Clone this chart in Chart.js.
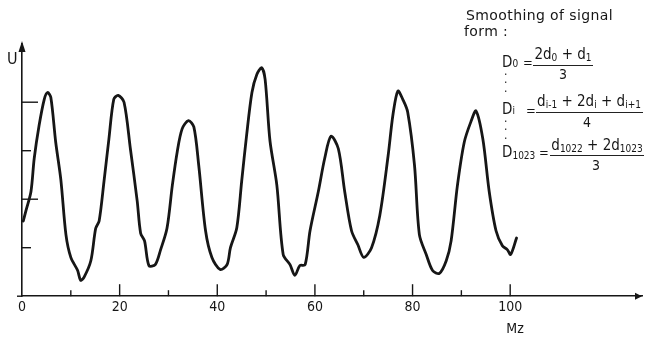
<!DOCTYPE html>
<html><head><meta charset="utf-8">
<script src="https://cdn.jsdelivr.net/npm/chart.js@4.4.1/dist/chart.umd.min.js"></script>
<style>
html,body{margin:0;padding:0;background:#fff;}
#wrap{position:relative;width:645px;height:337px;overflow:hidden;background:#fff;}
canvas{position:absolute;left:0;top:0;}
.t{position:absolute;font-family:"DejaVu Sans Condensed","DejaVu Sans",sans-serif;color:#161616;white-space:nowrap;line-height:1;}
.s{font-size:10px;vertical-align:-2px;line-height:1;}
.bar{position:absolute;height:0;border-top:1.3px solid #222;}
</style></head><body>
<div id="wrap"><canvas id="c" width="645" height="337"></canvas></div>
<script>
// ---- data ----
const freq = [0.27,0.8,1.84,2.5,3.5,4.56,5.24,5.9,6.9,7.96,9.0,10.0,11.4,12.0,12.7,14.1,15.1,15.8,16.8,17.8,18.8,19.7,20.9,22.2,23.6,24.3,25.1,26.0,27.3,28.4,29.7,30.8,31.8,32.8,34.1,35.2,36.2,37.6,38.9,40.6,42.0,42.7,44.0,45.0,46.0,47.1,48.1,49.1,49.8,50.8,52.2,53.5,54.9,55.9,56.9,58.0,59.0,60.7,62.0,63.3,64.8,66.1,67.5,68.8,70.0,71.6,73.3,75.0,76.0,77.0,78.0,79.0,80.4,81.4,82.8,84.1,85.5,86.9,87.9,89.2,90.6,92.0,93.0,94.4,95.7,97.1,98.4,99.4,100.1,101.3];
const signal = [1.55,1.76,2.16,2.84,3.52,4.06,4.2,4.1,3.18,2.4,1.27,0.8,0.53,0.33,0.39,0.73,1.4,1.55,2.37,3.24,4.06,4.14,4.0,3.04,1.96,1.3,1.14,0.63,0.65,0.96,1.4,2.29,2.98,3.45,3.62,3.49,2.7,1.35,0.8,0.55,0.65,1.0,1.41,2.37,3.31,4.2,4.57,4.71,4.47,3.2,2.29,0.86,0.65,0.43,0.63,0.65,1.35,2.16,2.84,3.3,3.04,2.16,1.35,1.06,0.8,1.0,1.67,2.9,3.75,4.23,4.06,3.8,2.7,1.27,0.86,0.53,0.47,0.73,1.14,2.29,3.18,3.61,3.82,3.24,2.16,1.35,1.04,0.96,0.86,1.2];
const xTickMarks = [10,20,30,40,50,60,70,80,90,100];
const xTickLabels = [0,20,40,60,80,100];
const yTickMarks = [1,2,3,4];

const ink = '#161616';
const fontFam = '"DejaVu Sans Condensed","DejaVu Sans",sans-serif';

const decor = {
  id:'decor',
  afterDraw(chart){
    const {ctx, chartArea:a, scales:{x,y}} = chart;
    ctx.save();
    ctx.strokeStyle = ink; ctx.fillStyle = ink; ctx.lineWidth = 1.4;
    xTickMarks.forEach(v=>{
      const px = x.getPixelForValue(v);
      const len = v % 20 === 0 ? 12 : 6;
      ctx.beginPath(); ctx.moveTo(px, a.bottom); ctx.lineTo(px, a.bottom - len); ctx.stroke();
    });
    yTickMarks.forEach(v=>{
      const py = y.getPixelForValue(v);
      const len = v % 2 === 0 ? 16 : 9;
      ctx.beginPath(); ctx.moveTo(a.left, py); ctx.lineTo(a.left + len, py); ctx.stroke();
    });
    ctx.beginPath(); ctx.moveTo(a.left - 5, a.bottom); ctx.lineTo(a.left, a.bottom); ctx.stroke();
    ctx.beginPath();
    ctx.moveTo(a.left, a.top - 3); ctx.lineTo(a.left - 3.5, a.top + 8); ctx.lineTo(a.left + 3.5, a.top + 8); ctx.closePath(); ctx.fill();
    ctx.beginPath();
    ctx.moveTo(a.right, a.bottom); ctx.lineTo(a.right - 7, a.bottom - 3.5); ctx.lineTo(a.right - 7, a.bottom + 3.5); ctx.closePath(); ctx.fill();
    ctx.restore();
  }
};

new Chart(document.getElementById('c'), {
  type:'line',
  data:{ datasets:[{
    data: freq.map((f,i)=>({x:f, y:signal[i]})),
    borderColor: ink, borderWidth: 2.8, pointRadius: 0,
    tension: 0.3, fill:false, borderJoinStyle:'round', borderCapStyle:'round'
  }]},
  options:{
    responsive:false, animation:false, devicePixelRatio:1,
    layout:{padding:{left:22, right:2, top:44, bottom:18}},
    plugins:{legend:{display:false}, tooltip:{enabled:false}},
    scales:{
      x:{type:'linear', min:0, max:127,
         grid:{display:false, drawTicks:false},
         border:{display:true, color:ink, width:1.6},
         ticks:{stepSize:10, autoSkip:false, maxRotation:0, padding:3, color:ink,
                font:{family:fontFam, size:14},
                callback:(v)=> xTickLabels.includes(v) ? String(v) : ''}},
      y:{type:'linear', min:0, max:5.2,
         grid:{display:false, drawTicks:false},
         border:{display:true, color:ink, width:1.6},
         ticks:{display:false}}
    }
  },
  plugins:[decor]
});

// ---- text annotations ----
const wrap = document.getElementById('wrap');
function put(html, x, baseline, size, align, extra){
  const d = document.createElement('div');
  d.className = 't'; d.innerHTML = html;
  d.style.fontSize = size + 'px';
  d.style.left = x + 'px';
  d.style.top = (baseline - 0.846*size) + 'px';
  if (align === 'center') d.style.transform = 'translateX(-50%)';
  if (extra) Object.assign(d.style, extra);
  wrap.appendChild(d);
}
function bar(x1, x2, y){
  const b = document.createElement('div'); b.className='bar';
  b.style.left = x1+'px'; b.style.width = (x2-x1)+'px'; b.style.top = y+'px';
  wrap.appendChild(b);
}
put('U', 7, 65, 16);
put('Mz', 515, 333, 14, 'center');
put('Smoothing of signal', 466, 20, 14, null, {letterSpacing:'0.4px', fontFamily:'"DejaVu Sans",sans-serif'});
put('form :', 464, 36, 14, null, {letterSpacing:'0.4px', fontFamily:'"DejaVu Sans",sans-serif'});
// D0
put('D<span class="s" style="vertical-align:0">0</span>', 502, 68, 15);
put('=', 523, 67, 13);
put('2d<span class="s">0</span> + d<span class="s">1</span>', 563, 60, 15, 'center');
bar(533, 593, 65);
put('3', 563, 79, 14, 'center');
put('.<br>.<br>.', 504, 77, 12, null, {lineHeight:'8.5px'});
// Di
put('D<span class="s" style="vertical-align:0">i</span>', 502, 115, 15);
put('=', 526, 115, 13);
put('d<span class="s">i-1</span> + 2d<span class="s">i</span> + d<span class="s">i+1</span>', 589, 107, 15, 'center');
bar(536, 643, 112);
put('4', 587, 127, 14, 'center');
put('.<br>.<br>.', 504, 124, 12, null, {lineHeight:'8.5px'});
// D1023
put('D<span class="s">1023</span>', 502, 158, 15);
put('=', 539, 157, 13);
put('d<span class="s">1022</span> + 2d<span class="s">1023</span>', 597, 151, 15, 'center');
bar(550, 644, 155);
put('3', 596, 170, 14, 'center');
</script>
</body></html>
